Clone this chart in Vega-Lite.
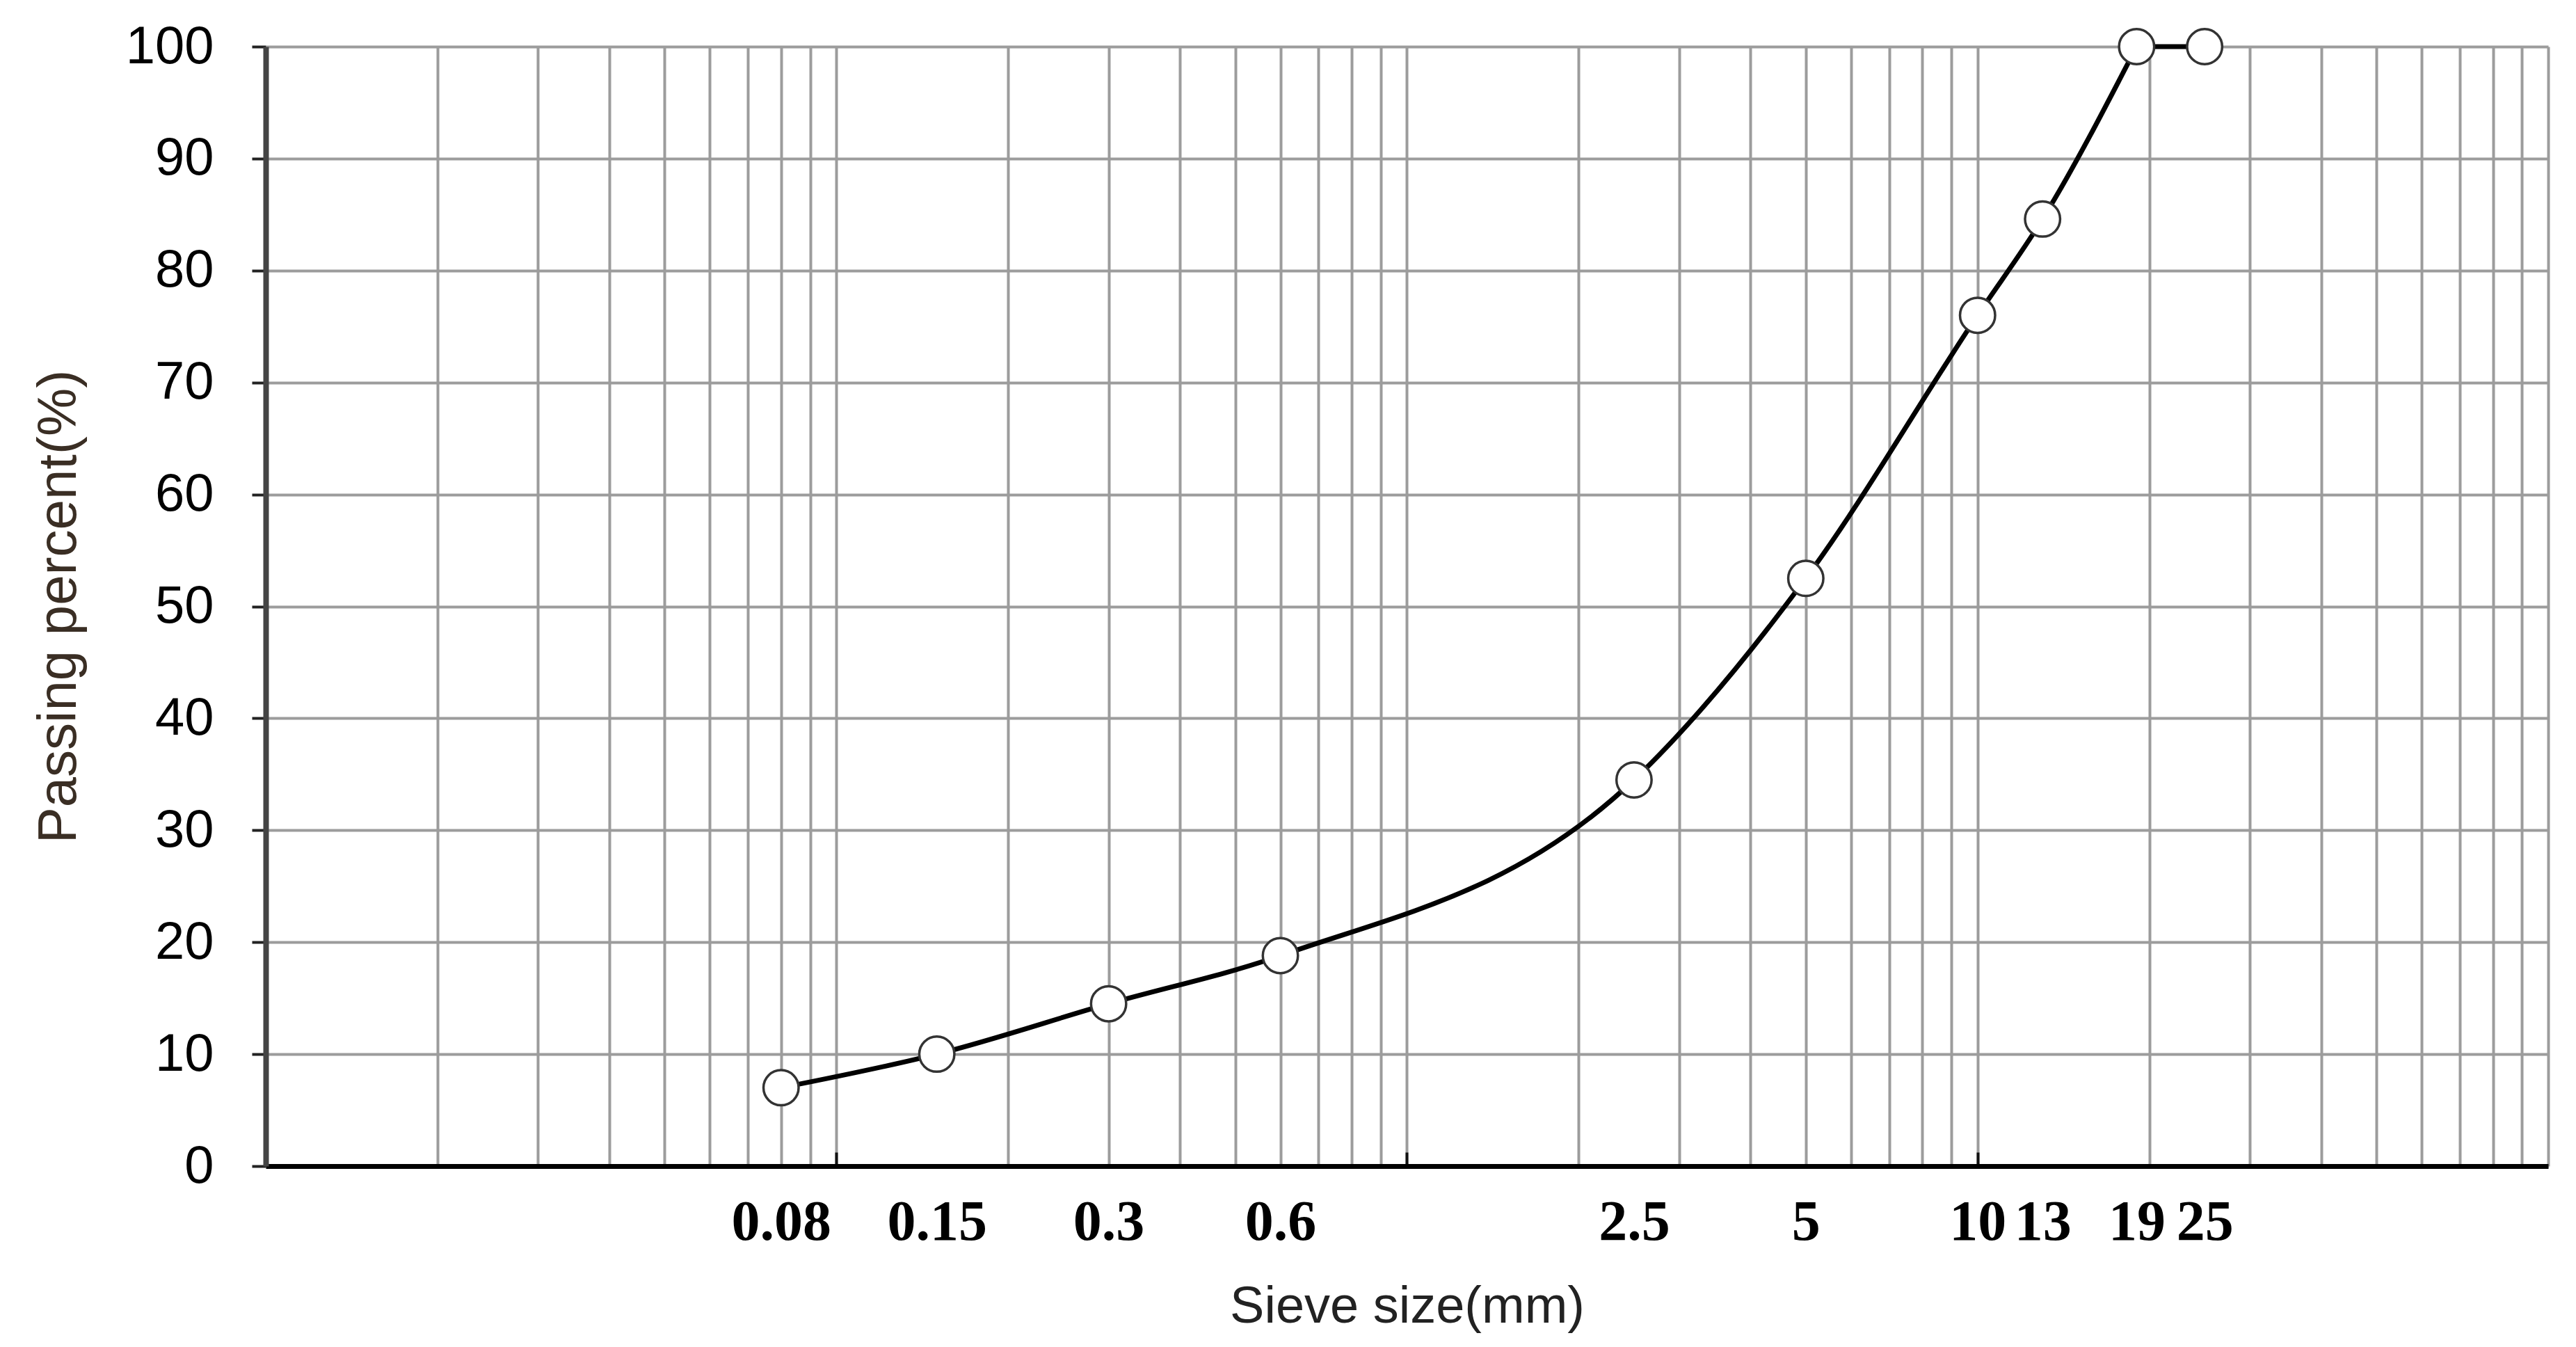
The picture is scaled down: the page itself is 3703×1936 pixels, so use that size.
{
  "$schema": "https://vega.github.io/schema/vega-lite/v6.json",
  "width": 3281,
  "height": 1609,
  "autosize": {"type": "none"},
  "padding": {"left": 382, "top": 67, "right": 40, "bottom": 260},
  "background": "white",
  "config": {"view": {"stroke": null}},
  "data": {
    "values": [
      {"size": 0.08, "passing": 7.0},
      {"size": 0.15, "passing": 10.0},
      {"size": 0.3, "passing": 14.5},
      {"size": 0.6, "passing": 18.8},
      {"size": 2.5, "passing": 34.5},
      {"size": 5, "passing": 52.5},
      {"size": 10, "passing": 76.0},
      {"size": 13, "passing": 84.6},
      {"size": 19, "passing": 100},
      {"size": 25, "passing": 100}
    ]
  },
  "encoding": {
    "x": {
      "field": "size",
      "type": "quantitative",
      "scale": {"type": "log", "domain": [0.01, 100], "nice": false},
      "axis": {
        "title": "Sieve size(mm)",
        "titleFont": "Liberation Sans",
        "titleFontSize": 74,
        "titleFontWeight": "normal",
        "titleColor": "#222222",
        "titlePadding": 45,
        "values": [0.01, 0.02, 0.03, 0.04, 0.05, 0.06, 0.07, 0.08, 0.09, 0.1, 0.15, 0.2, 0.3, 0.4, 0.5, 0.6, 0.7, 0.8, 0.9, 1, 2, 2.5, 3, 4, 5, 6, 7, 8, 9, 10, 13, 19, 20, 25, 30, 40, 50, 60, 70, 80, 90, 100],
        "labelExpr": "indexof([0.08, 0.15, 0.3, 0.6, 2.5, 5, 10, 13, 19, 25], datum.value) >= 0 ? '' + datum.value : ''",
        "labelFont": "Liberation Serif",
        "labelFontWeight": "bold",
        "labelFontSize": 82,
        "labelColor": "#000000",
        "labelOverlap": false,
        "labelFlush": false,
        "labelBound": false,
        "labelPadding": 60,
        "grid": true,
        "gridColor": "#9c9c9c",
        "gridWidth": 4,
        "gridOpacity": {"condition": {"test": "indexof([0.15, 2.5, 13, 19, 25], datum.value) >= 0", "value": 0}, "value": 1},
        "ticks": true,
        "tickSize": -20,
        "tickWidth": 4,
        "tickColor": "#111111",
        "tickOpacity": {"condition": {"test": "indexof([0.1, 1, 10], datum.value) >= 0", "value": 1}, "value": 0},
        "domainColor": "#000000",
        "domainWidth": 7
      }
    },
    "y": {
      "field": "passing",
      "type": "quantitative",
      "scale": {"domain": [0, 100], "nice": false},
      "axis": {
        "title": "Passing percent(%)",
        "titleFont": "Liberation Sans",
        "titleFontSize": 78,
        "titleFontWeight": "normal",
        "titleColor": "#3a2e24",
        "titlePadding": 58,
        "values": [0, 10, 20, 30, 40, 50, 60, 70, 80, 90, 100],
        "labelFont": "Liberation Sans",
        "labelFontSize": 76,
        "labelColor": "#000000",
        "labelPadding": 55,
        "labelFlush": false,
        "labelOverlap": false,
        "grid": true,
        "gridColor": "#9c9c9c",
        "gridWidth": 4,
        "tickSize": 20,
        "tickWidth": 4,
        "tickColor": "#222222",
        "domainColor": "#444444",
        "domainWidth": 8
      }
    }
  },
  "layer": [
    {
      "transform": [{"filter": "datum.size <= 19"}],
      "mark": {"type": "line", "interpolate": "monotone", "color": "#000000", "strokeWidth": 7}
    },
    {
      "transform": [{"filter": "datum.size >= 19"}],
      "mark": {"type": "line", "interpolate": "linear", "color": "#000000", "strokeWidth": 7}
    },
    {
      "mark": {"type": "point", "shape": "circle", "filled": true, "fill": "#ffffff", "stroke": "#333333", "strokeWidth": 3.5, "size": 2550, "opacity": 1}
    }
  ]
}
